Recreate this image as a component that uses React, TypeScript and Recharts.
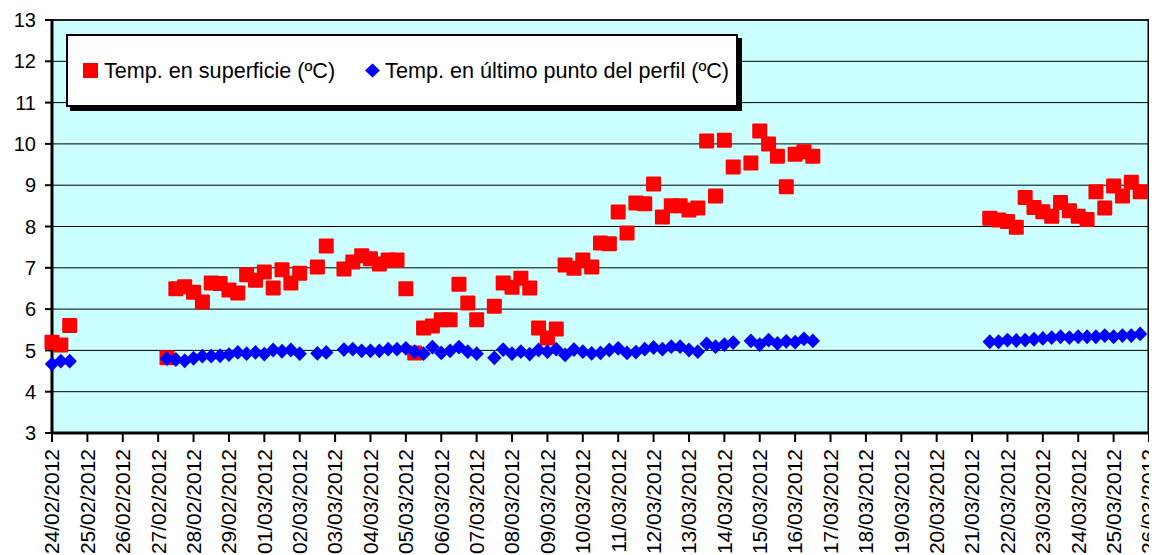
import React from 'react';
import { ScatterChart, Scatter, XAxis, YAxis, CartesianGrid, Legend, ReferenceLine } from 'recharts';

const FONT = '"Liberation Sans", Arial, sans-serif';

// Axis tick labels (one per day)
const dateLabels = [
  '24/02/2012', '25/02/2012', '26/02/2012', '27/02/2012', '28/02/2012', '29/02/2012',
  '01/03/2012', '02/03/2012', '03/03/2012', '04/03/2012', '05/03/2012', '06/03/2012',
  '07/03/2012', '08/03/2012', '09/03/2012', '10/03/2012', '11/03/2012', '12/03/2012',
  '13/03/2012', '14/03/2012', '15/03/2012', '16/03/2012', '17/03/2012', '18/03/2012',
  '19/03/2012', '20/03/2012', '21/03/2012', '22/03/2012', '23/03/2012', '24/03/2012',
  '25/03/2012', '26/03/2012',
];
const yTicks = [3, 4, 5, 6, 7, 8, 9, 10, 11, 12, 13];
const seriesNames = ['Temp. en superficie (ºC)', 'Temp. en último punto del perfil (ºC)'];

// Sampling instants, in days since 24/02/2012 00:00
const sampleDays = [
  0, 0.25, 0.5,
  3.25, 3.5, 3.75, 4, 4.25, 4.5, 4.75, 5, 5.25, 5.5, 5.75, 6, 6.25, 6.5, 6.75, 7,
  7.25, 7.5, 7.75, 8, 8.25, 8.5, 8.75, 9, 9.25, 9.5, 9.75, 10, 10.25, 10.5, 10.75, 11,
  11.25, 11.5, 11.75, 12, 12.25, 12.5, 12.75, 13, 13.25, 13.5, 13.75, 14, 14.25, 14.5, 14.75, 15,
  15.25, 15.5, 15.75, 16, 16.25, 16.5, 16.75, 17, 17.25, 17.5, 17.75, 18, 18.25, 18.5, 18.75, 19,
  19.25, 19.5, 19.75, 20, 20.25, 20.5, 20.75, 21, 21.25, 21.5,
  26.5, 26.75, 27, 27.25, 27.5, 27.75, 28, 28.25, 28.5, 28.75, 29, 29.25, 29.5, 29.75, 30, 30.25,
  30.5, 30.75,
];

// Surface temperature (ºC)
const surfaceTemp: (number | null)[] = [
  5.2, 5.13, 5.6,
  4.82, 6.49, 6.54, 6.41, 6.17, 6.63, 6.62, 6.46, 6.39, 6.83, 6.7, 6.9, 6.51, 6.95, 6.63, 6.87,
  null, 7.02, 7.53, null, 6.97, 7.14, 7.29, 7.22, 7.09, 7.19, 7.19, 6.49, 4.94, 5.54, 5.59, 5.74,
  5.74, 6.6, 6.15, 5.74, null, 6.07, 6.63, 6.53, 6.75, 6.51, 5.54, 5.3, 5.52, 7.07, 6.99, 7.19,
  7.02, 7.6, 7.58, 8.35, 7.84, 8.57, 8.55, 9.03, 8.23, 8.5, 8.5, 8.4, 8.45, 10.07, 8.74, 10.09,
  9.44, null, 9.54, 10.31, 10.0, 9.7, 8.96, 9.75, 9.81, 9.7,
  8.2, 8.16, 8.12, 7.98, 8.7, 8.46, 8.36, 8.25, 8.58, 8.38, 8.25, 8.17, 8.84, 8.45, 8.98, 8.74,
  9.07, 8.84,
];

// Temperature at the last point of the profile (ºC)
const bottomTemp: (number | null)[] = [
  4.67, 4.74, 4.74,
  4.8, 4.78, 4.75, 4.81, 4.86, 4.86, 4.87, 4.9, 4.95, 4.92, 4.95, 4.91, 5.01, 4.98, 5.01, 4.92,
  null, 4.93, 4.95, null, 5.02, 5.03, 4.99, 4.99, 4.99, 5.03, 5.03, 5.05, 4.97, 4.92, 5.08, 4.94,
  4.99, 5.08, 4.97, 4.92, null, 4.82, 5.02, 4.92, 4.97, 4.91, 5.01, 4.97, 5.03, 4.89, 5.02, 4.97,
  4.93, 4.94, 5.01, 5.05, 4.94, 4.96, 5.03, 5.07, 5.03, 5.09, 5.09, 5.01, 4.97, 5.16, 5.09, 5.14,
  5.19, null, 5.23, 5.14, 5.25, 5.17, 5.22, 5.2, 5.28, 5.23,
  5.21, 5.21, 5.25, 5.24, 5.25, 5.27, 5.29, 5.31, 5.33, 5.31, 5.33, 5.33, 5.33, 5.36, 5.33, 5.36,
  5.36, 5.4,
];

const toPoints = (vals: (number | null)[]) =>
  sampleDays
    .map((t, i) => ({ t, v: vals[i] }))
    .filter((p) => p.v !== null && p.v !== undefined);

const surfacePoints = toPoints(surfaceTemp);
const bottomPoints = toPoints(bottomTemp);
const xTicks = dateLabels.map((_, i) => i);

const SquareShape = (props: any) => {
  const { cx, cy } = props;
  if (cx == null || cy == null) return null;
  return <rect x={cx - 7.5} y={cy - 7.5} width={15} height={15} rx={1} fill="#FF0000" />;
};

const DiamondShape = (props: any) => {
  const { cx, cy } = props;
  if (cx == null || cy == null) return null;
  const w = 7.2;
  const h = 7.4;
  return (
    <polygon
      points={`${cx},${cy - h} ${cx + w},${cy} ${cx},${cy + h} ${cx - w},${cy}`}
      fill="#0000FF"
    />
  );
};

const XTick = (props: any) => {
  const { x, y, payload } = props;
  return (
    <text
      x={x}
      y={y}
      transform={`rotate(-90 ${x} ${y})`}
      textAnchor="end"
      dy="0.35em"
      fontSize={21}
      fontFamily={FONT}
      fill="#000"
    >
      {dateLabels[payload.value]}
    </text>
  );
};

const renderLegend = () => (
  <div
    style={{
      boxSizing: 'border-box',
      width: 672,
      height: 73,
      border: '2px solid #000',
      background: '#fff',
      boxShadow: '4px 4px 0 #000',
      display: 'flex',
      alignItems: 'center',
      paddingLeft: 15,
      fontFamily: FONT,
      fontSize: 21.6,
      color: '#000',
      whiteSpace: 'nowrap',
    }}
  >
    <svg width={15} height={15} style={{ display: 'block' }}>
      <rect width={15} height={15} fill="#FF0000" />
    </svg>
    <span style={{ marginLeft: 6 }}>{seriesNames[0]}</span>
    <svg width={15} height={15} style={{ display: 'block', marginLeft: 30 }}>
      <polygon points="7.5,0.5 15,7.5 7.5,14.5 0,7.5" fill="#0000FF" />
    </svg>
    <span style={{ marginLeft: 5 }}>{seriesNames[1]}</span>
  </div>
);

export default function App() {
  return (
    <div style={{ width: 1149, height: 547 }}>
      <ScatterChart
        width={1149}
        height={547}
        margin={{ top: 12, right: 8, bottom: 0, left: 0 }}
      >
        <CartesianGrid
          fill="#CCFFFF"
          stroke="#000"
          strokeWidth={1}
          vertical={false}
          horizontal={true}
        />
        <XAxis
          type="number"
          dataKey="t"
          domain={[0, 31]}
          ticks={xTicks}
          interval={0}
          height={122}
          tick={<XTick />}
          tickSize={9}
          tickMargin={7}
          axisLine={{ stroke: '#000', strokeWidth: 3 }}
          tickLine={{ stroke: '#000', strokeWidth: 2 }}
          allowDecimals={true}
        />
        <YAxis
          type="number"
          dataKey="v"
          domain={[3, 13]}
          ticks={yTicks}
          interval={0}
          width={44}
          tickSize={7}
          tickMargin={9}
          tick={{ fontSize: 20, fill: '#000', fontFamily: FONT }}
          axisLine={{ stroke: '#000', strokeWidth: 3 }}
          tickLine={{ stroke: '#000', strokeWidth: 2 }}
        />
        <ReferenceLine x={31} stroke="#000" strokeWidth={3} />
        <ReferenceLine y={13} stroke="#000" strokeWidth={1.5} />
        <Legend
          layout="horizontal"
          verticalAlign="middle"
          align="center"
          content={renderLegend}
          wrapperStyle={{ position: 'absolute', left: 58, top: 26, width: 676, height: 77 }}
        />
        <Scatter
          name={seriesNames[0]}
          data={surfacePoints}
          fill="#FF0000"
          shape={<SquareShape />}
          isAnimationActive={false}
        />
        <Scatter
          name={seriesNames[1]}
          data={bottomPoints}
          fill="#0000FF"
          shape={<DiamondShape />}
          isAnimationActive={false}
        />
      </ScatterChart>
    </div>
  );
}
